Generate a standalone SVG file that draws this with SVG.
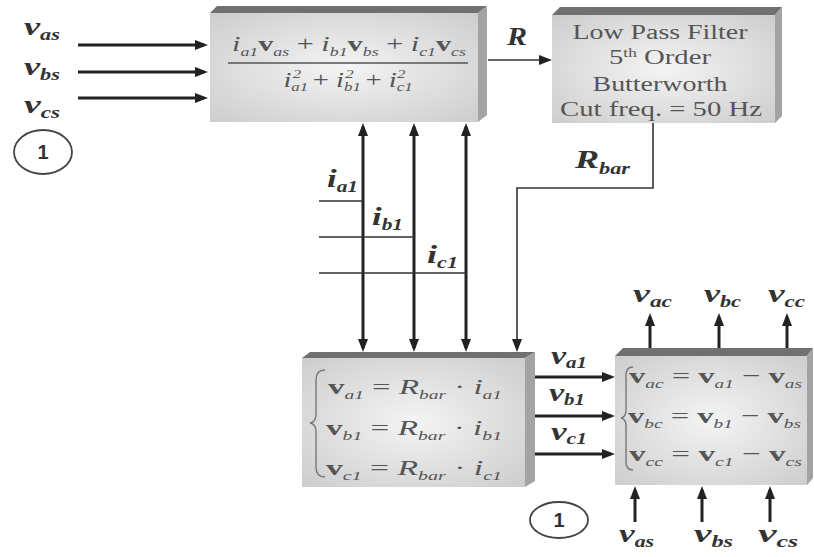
<svg xmlns="http://www.w3.org/2000/svg" width="814" height="557" viewBox="0 0 814 557">
<style>
.face{fill:url(#gf)}
.top{fill:#707070}
.side{fill:#a3a3a3}
.m{font-family:"Liberation Serif",serif;font-size:22px;fill:#555}
.lbl{font-family:"Liberation Serif",serif;font-size:26px;fill:#333;font-weight:bold;font-style:italic}
.it{font-style:italic}
.b{font-weight:bold}
.s{font-size:13px;font-style:italic}
.ls{font-size:16px;font-style:italic;font-weight:bold}
.ft{font-family:"Liberation Serif",serif;font-size:20px;fill:#555;text-anchor:middle}
.ar{stroke:#222;stroke-width:3;fill:none}
.thin{stroke:#333;stroke-width:1.6;fill:none}
.circ{fill:none;stroke:#444;stroke-width:1.8}
.one{font-family:"Liberation Sans",sans-serif;font-size:20px;font-weight:bold;fill:#333;text-anchor:middle}
.br{fill:none;stroke:#777;stroke-width:1.4}
</style>
<defs>
<radialGradient id="gf" cx="0.5" cy="0.5" r="0.7">
<stop offset="0" stop-color="#f4f4f4"/>
<stop offset="1" stop-color="#cdcdcd"/>
</radialGradient>
<marker id="ah" viewBox="0 0 13 10" refX="9" refY="5" markerWidth="13" markerHeight="10" markerUnits="userSpaceOnUse" orient="auto-start-reverse">
<path d="M0,0 L13,5 L0,10 Z" fill="#222"/>
</marker>
</defs>
<rect width="814" height="557" fill="#fff"/>

<g id="connectors">
<path class="ar" d="M78,45 H204" marker-end="url(#ah)"/>
<path class="ar" d="M78,72 H204" marker-end="url(#ah)"/>
<path class="ar" d="M78,98 H204" marker-end="url(#ah)"/>
<path class="thin" stroke-width="2" d="M488,60 H548" marker-end="url(#ah)"/>
<path class="ar" d="M363,127 V348" marker-start="url(#ah)" marker-end="url(#ah)"/>
<path class="ar" d="M414,127 V348" marker-start="url(#ah)" marker-end="url(#ah)"/>
<path class="ar" d="M466,127 V348" marker-start="url(#ah)" marker-end="url(#ah)"/>
<path class="thin" d="M653,123 V188 H517 V348" stroke="#555" stroke-width="2" marker-end="url(#ah)"/>
<path class="thin" d="M319,201 H363 M319,237 H414 M319,273 H466"/>
<path class="ar" d="M535,377 H611" marker-end="url(#ah)"/>
<path class="ar" d="M535,416 H611" marker-end="url(#ah)"/>
<path class="ar" d="M535,454 H611" marker-end="url(#ah)"/>
<path class="ar" d="M650,348 V317" marker-end="url(#ah)"/>
<path class="ar" d="M719,348 V317" marker-end="url(#ah)"/>
<path class="ar" d="M787,348 V317" marker-end="url(#ah)"/>
<path class="ar" d="M635,522 V490" marker-end="url(#ah)"/>
<path class="ar" d="M702,522 V490" marker-end="url(#ah)"/>
<path class="ar" d="M770,522 V490" marker-end="url(#ah)"/>
<text class="lbl" x="507" y="45" textLength="20" lengthAdjust="spacingAndGlyphs">R</text>
<text class="lbl" x="575" y="168" textLength="55" lengthAdjust="spacingAndGlyphs">R<tspan class="ls" dy="6">bar</tspan></text>
<text class="lbl" x="327" y="187" textLength="31" lengthAdjust="spacingAndGlyphs">i<tspan class="ls" dy="5">a1</tspan></text>
<text class="lbl" x="372" y="225" textLength="31" lengthAdjust="spacingAndGlyphs">i<tspan class="ls" dy="5">b1</tspan></text>
<text class="lbl" x="427" y="263" textLength="31" lengthAdjust="spacingAndGlyphs">i<tspan class="ls" dy="5">c1</tspan></text>
<text class="lbl" x="551" y="364" textLength="36" lengthAdjust="spacingAndGlyphs">v<tspan class="ls" dy="4">a1</tspan></text>
<text class="lbl" x="549" y="401" textLength="36" lengthAdjust="spacingAndGlyphs">v<tspan class="ls" dy="4">b1</tspan></text>
<text class="lbl" x="551" y="440" textLength="36" lengthAdjust="spacingAndGlyphs">v<tspan class="ls" dy="4">c1</tspan></text>
</g>

<g id="inputs-top">
<text class="lbl" x="24" y="35" textLength="36" lengthAdjust="spacingAndGlyphs">v<tspan class="ls" dy="5">as</tspan></text>
<text class="lbl" x="24" y="75" textLength="36" lengthAdjust="spacingAndGlyphs">v<tspan class="ls" dy="5">bs</tspan></text>
<text class="lbl" x="24" y="113" textLength="36" lengthAdjust="spacingAndGlyphs">v<tspan class="ls" dy="5">cs</tspan></text>
<ellipse class="circ" cx="43" cy="152" rx="29" ry="22"/>
<text class="one" x="43" y="159">1</text>
</g>

<g id="node-ratio">
<polygon class="top" points="210,13 217,6 487,6 478,13"/>
<polygon class="side" points="478,13 487,6 487,115 478,122"/>
<rect class="face" x="210" y="13" width="268" height="109"/>
<text class="m" x="232" y="51" textLength="234" lengthAdjust="spacingAndGlyphs"><tspan class="it">i</tspan><tspan class="s" dy="5">a1</tspan><tspan class="b" dy="-5">v</tspan><tspan class="s" dy="5">as</tspan><tspan dy="-5"> + </tspan><tspan class="it">i</tspan><tspan class="s" dy="5">b1</tspan><tspan class="b" dy="-5">v</tspan><tspan class="s" dy="5">bs</tspan><tspan dy="-5"> + </tspan><tspan class="it">i</tspan><tspan class="s" dy="5">c1</tspan><tspan class="b" dy="-5">v</tspan><tspan class="s" dy="5">cs</tspan></text>
<line x1="228" y1="63" x2="468" y2="63" stroke="#555" stroke-width="1.5"/>
<g transform="translate(348,87) scale(1.3,1)">
<text class="m" x="0" y="0" text-anchor="middle"><tspan class="it">i</tspan><tspan class="s" dy="4">a1</tspan><tspan class="s" dx="-12" dy="-13">2</tspan><tspan dx="9" dy="9">+ </tspan><tspan class="it">i</tspan><tspan class="s" dy="4">b1</tspan><tspan class="s" dx="-12" dy="-13">2</tspan><tspan dx="9" dy="9">+ </tspan><tspan class="it">i</tspan><tspan class="s" dy="4">c1</tspan><tspan class="s" dx="-12" dy="-13">2</tspan><tspan dx="6" dy="9"> </tspan></text>
</g>
</g>

<g id="node-filter">
<polygon class="top" points="552,15 560,7 782,7 775,15"/>
<polygon class="side" points="775,15 782,7 782,116 775,123"/>
<rect class="face" x="552" y="15" width="223" height="108"/>
<text class="ft" x="660" y="39" textLength="175" lengthAdjust="spacingAndGlyphs">Low Pass Filter</text>
<text class="ft" x="660" y="64" textLength="102" lengthAdjust="spacingAndGlyphs">5<tspan font-size="12" dy="-7">th</tspan><tspan dy="7"> Order</tspan></text>
<text class="ft" x="660" y="91" textLength="135" lengthAdjust="spacingAndGlyphs">Butterworth</text>
<text class="ft" x="661" y="116" textLength="202" lengthAdjust="spacingAndGlyphs">Cut freq. = 50 Hz</text>
</g>

<g id="node-v1">
<polygon class="top" points="302,358 310,352 535,352 525,358"/>
<polygon class="side" points="525,358 535,352 535,481 525,487"/>
<rect class="face" x="302" y="358" width="223" height="129"/>
<path class="br" d="M325,370 Q316,370 316,380 V414 Q316,422 310,423 Q316,424 316,432 V467 Q316,477 325,477"/>
<text class="m" x="328" y="394" textLength="174" lengthAdjust="spacingAndGlyphs"><tspan class="b">v</tspan><tspan class="s" dy="5">a1</tspan><tspan dy="-5"> = </tspan><tspan class="it">R</tspan><tspan class="s" dy="5">bar</tspan><tspan dy="-5"> · </tspan><tspan class="it">i</tspan><tspan class="s" dy="5">a1</tspan></text>
<text class="m" x="326" y="435" textLength="176" lengthAdjust="spacingAndGlyphs"><tspan class="b">v</tspan><tspan class="s" dy="5">b1</tspan><tspan dy="-5"> = </tspan><tspan class="it">R</tspan><tspan class="s" dy="5">bar</tspan><tspan dy="-5"> · </tspan><tspan class="it">i</tspan><tspan class="s" dy="5">b1</tspan></text>
<text class="m" x="326" y="475" textLength="176" lengthAdjust="spacingAndGlyphs"><tspan class="b">v</tspan><tspan class="s" dy="5">c1</tspan><tspan dy="-5"> = </tspan><tspan class="it">R</tspan><tspan class="s" dy="5">bar</tspan><tspan dy="-5"> · </tspan><tspan class="it">i</tspan><tspan class="s" dy="5">c1</tspan></text>
</g>

<g id="node-vc">
<polygon class="top" points="615,356 623,348 813,348 807,356"/>
<polygon class="side" points="807,356 813,348 813,478 807,485"/>
<rect class="face" x="615" y="356" width="192" height="129"/>
<path class="br" d="M633,367 Q626,367 626,375 V410 Q626,417 621,418 Q626,419 626,426 V462 Q626,470 633,470"/>
<text class="m" x="629" y="383" textLength="173" lengthAdjust="spacingAndGlyphs"><tspan class="b">v</tspan><tspan class="s" dy="5">ac</tspan><tspan dy="-5"> = </tspan><tspan class="b">v</tspan><tspan class="s" dy="5">a1</tspan><tspan dy="-5"> − </tspan><tspan class="b">v</tspan><tspan class="s" dy="5">as</tspan></text>
<text class="m" x="628" y="423" textLength="173" lengthAdjust="spacingAndGlyphs"><tspan class="b">v</tspan><tspan class="s" dy="5">bc</tspan><tspan dy="-5"> = </tspan><tspan class="b">v</tspan><tspan class="s" dy="5">b1</tspan><tspan dy="-5"> − </tspan><tspan class="b">v</tspan><tspan class="s" dy="5">bs</tspan></text>
<text class="m" x="629" y="461" textLength="173" lengthAdjust="spacingAndGlyphs"><tspan class="b">v</tspan><tspan class="s" dy="5">cc</tspan><tspan dy="-5"> = </tspan><tspan class="b">v</tspan><tspan class="s" dy="5">c1</tspan><tspan dy="-5"> − </tspan><tspan class="b">v</tspan><tspan class="s" dy="5">cs</tspan></text>
</g>

<g id="outputs">
<text class="lbl" x="633" y="302" textLength="39" lengthAdjust="spacingAndGlyphs">v<tspan class="ls" dy="5">ac</tspan></text>
<text class="lbl" x="704" y="302" textLength="37" lengthAdjust="spacingAndGlyphs">v<tspan class="ls" dy="5">bc</tspan></text>
<text class="lbl" x="768" y="302" textLength="37" lengthAdjust="spacingAndGlyphs">v<tspan class="ls" dy="5">cc</tspan></text>
</g>

<g id="inputs-bottom">
<text class="lbl" x="619" y="542" textLength="35" lengthAdjust="spacingAndGlyphs">v<tspan class="ls" dy="5">as</tspan></text>
<text class="lbl" x="694" y="542" textLength="39" lengthAdjust="spacingAndGlyphs">v<tspan class="ls" dy="5">bs</tspan></text>
<text class="lbl" x="758" y="542" textLength="40" lengthAdjust="spacingAndGlyphs">v<tspan class="ls" dy="5">cs</tspan></text>
<ellipse class="circ" cx="559" cy="520" rx="29" ry="18"/>
<text class="one" x="559" y="527">1</text>
</g>
</svg>
